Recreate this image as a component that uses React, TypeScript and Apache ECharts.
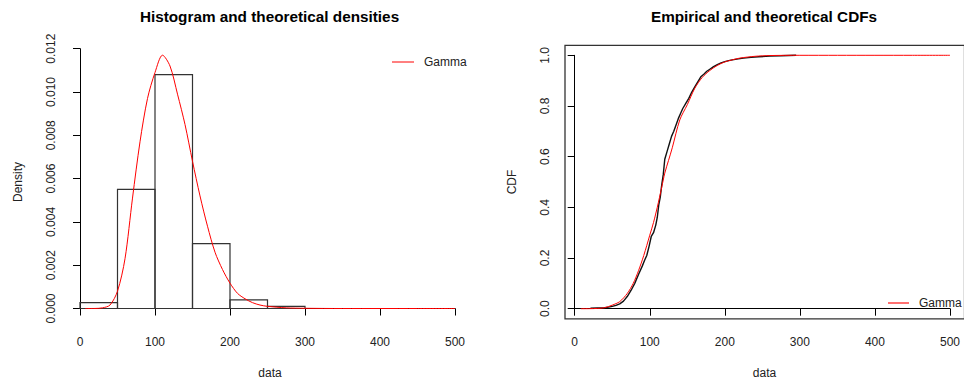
import React, { useEffect, useRef } from "react";
import * as echarts from "echarts";

// Histogram (breaks and densities)
const histBreaks = [0, 50, 100, 150, 200, 250, 300];
const histDensity = [0.00027, 0.0055, 0.0108, 0.003, 0.0004, 0.0001];

// Fitted gamma density
const densX = [7, 20, 30, 40, 50, 60, 70, 80, 90, 100, 110, 120, 130, 140, 150, 160, 170, 180, 190, 200, 210, 220, 230, 240, 250, 275, 300, 350, 400, 450, 500];
const densY = [0, 0.000002, 0.00003, 0.00016, 0.0008, 0.0023, 0.0051, 0.0077, 0.0097, 0.0109, 0.0117, 0.0112, 0.0099, 0.0085, 0.0068, 0.0052, 0.0038, 0.0026, 0.0018, 0.00117, 0.0007, 0.00045, 0.00027, 0.00016, 0.0001, 0.00003, 0.00001, 0, 0, 0, 0];

// Empirical CDF
const ecdfX = [21, 30, 40, 45, 50, 55, 60, 65, 70, 75, 80, 85, 90, 93, 96, 99, 102, 105, 108, 110, 112, 114, 116, 118, 120, 123, 126, 129, 132, 135, 138, 141, 144, 148, 152, 156, 160, 164, 168, 172, 176, 180, 185, 190, 195, 200, 205, 210, 218, 225, 235, 245, 260, 275, 295];
const ecdfY = [0.002, 0.003, 0.004, 0.006, 0.009, 0.013, 0.019, 0.03, 0.048, 0.072, 0.1, 0.135, 0.168, 0.19, 0.21, 0.245, 0.285, 0.3, 0.33, 0.36, 0.41, 0.44, 0.49, 0.53, 0.59, 0.62, 0.65, 0.68, 0.7, 0.725, 0.75, 0.77, 0.79, 0.81, 0.83, 0.855, 0.875, 0.895, 0.915, 0.925, 0.937, 0.945, 0.955, 0.963, 0.97, 0.975, 0.979, 0.982, 0.986, 0.989, 0.992, 0.994, 0.997, 0.998, 1.0];

// Fitted gamma CDF
const cdfX = [8, 20, 30, 40, 50, 60, 70, 78, 85, 92, 100, 105, 110, 116, 120, 125, 130, 140, 150, 160, 170, 180, 190, 200, 210, 220, 240, 260, 300, 350, 400, 450, 500];
const cdfY = [0, 0.0002, 0.001, 0.004, 0.014, 0.028, 0.06, 0.1, 0.15, 0.21, 0.29, 0.34, 0.4, 0.48, 0.535, 0.585, 0.635, 0.745, 0.805, 0.87, 0.913, 0.94, 0.96, 0.974, 0.982, 0.989, 0.996, 0.999, 1.0, 1.0, 1.0, 1.0, 1.0];

const legendLabel = "Gamma";

const FONT = "'Liberation Sans', Arial, sans-serif";

export default function App() {
  const ref = useRef<HTMLDivElement>(null);
  useEffect(() => {
    document.body.style.margin = "0";
    const chart = echarts.init(ref.current!, null, { renderer: "svg" });
    const histData = histDensity.map((d, i) => [histBreaks[i], histBreaks[i + 1], d]);
    const densData = densX.map((x, i) => [x, densY[i]]);
    const ecdfData = ecdfX.map((x, i) => [x, ecdfY[i]]);
    const cdfData = cdfX.map((x, i) => [x, cdfY[i]]);

    const axisCommonX = {
      type: "value",
      min: 0,
      max: 500,
      interval: 100,
      offset: 10,
      splitLine: { show: false },
      axisLine: { show: true, lineStyle: { color: "#000", width: 1 } },
      axisTick: { show: true, length: 7, lineStyle: { color: "#000" } },
      axisLabel: { color: "#222", fontSize: 12, fontFamily: FONT, margin: 17 },
    };

    const legendText = (x: number, y: number) => ({
      type: "text",
      x,
      y,
      style: { text: legendLabel, font: `12px ${FONT}`, fill: "#222", align: "left", verticalAlign: "middle" },
    });

    chart.setOption({
      animation: false,
      backgroundColor: "#fff",
      grid: [
        { left: 80, top: 48.7, width: 375, height: 259.8 },
        { left: 574.7, top: 55.3, width: 375.3, height: 253.4 },
      ],
      xAxis: [
        { ...axisCommonX, gridIndex: 0 },
        { ...axisCommonX, gridIndex: 1, offset: 10.1 },
      ],
      yAxis: [
        {
          type: "value",
          gridIndex: 0,
          min: 0,
          max: 0.012,
          interval: 0.002,
          offset: 9.5,
          splitLine: { show: false },
          axisLine: { show: true, lineStyle: { color: "#000", width: 1 } },
          axisTick: { show: true, length: 7, lineStyle: { color: "#000" } },
          axisLabel: {
            color: "#222",
            fontSize: 12,
            fontFamily: FONT,
            rotate: 90,
            margin: 14,
            formatter: (v: number) => v.toFixed(3),
          },
        },
        {
          type: "value",
          gridIndex: 1,
          min: 0,
          max: 1,
          interval: 0.2,
          offset: 9.7,
          splitLine: { show: false },
          axisLine: { show: true, lineStyle: { color: "#000", width: 1 } },
          axisTick: { show: true, length: 7, lineStyle: { color: "#000" } },
          axisLabel: {
            color: "#222",
            fontSize: 12,
            fontFamily: FONT,
            rotate: 90,
            margin: 14,
            formatter: (v: number) => v.toFixed(1),
          },
        },
      ],
      graphic: [
        {
          type: "rect",
          shape: { x: 565, y: 45.3, width: 399.5, height: 273.5 },
          style: { fill: "none", stroke: "#333", lineWidth: 1.3 },
          silent: true,
        },
        {
          type: "text",
          x: 269.5,
          y: 16,
          style: { text: "Histogram and theoretical densities", font: `bold 15.3px ${FONT}`, fill: "#000", align: "center", verticalAlign: "middle" },
        },
        {
          type: "text",
          x: 764,
          y: 16,
          style: { text: "Empirical and theoretical CDFs", font: `bold 15.3px ${FONT}`, fill: "#000", align: "center", verticalAlign: "middle" },
        },
        {
          type: "text",
          x: 270,
          y: 373,
          style: { text: "data", font: `12px ${FONT}`, fill: "#222", align: "center", verticalAlign: "middle" },
        },
        {
          type: "text",
          x: 764.5,
          y: 373,
          style: { text: "data", font: `12px ${FONT}`, fill: "#222", align: "center", verticalAlign: "middle" },
        },
        {
          type: "text",
          x: 18,
          y: 182,
          rotation: Math.PI / 2,
          style: { text: "Density", font: `12px ${FONT}`, fill: "#222", align: "center", verticalAlign: "middle" },
        },
        {
          type: "text",
          x: 511.5,
          y: 182,
          rotation: Math.PI / 2,
          style: { text: "CDF", font: `12px ${FONT}`, fill: "#222", align: "center", verticalAlign: "middle" },
        },
        {
          type: "line",
          shape: { x1: 392, y1: 62, x2: 414, y2: 62 },
          style: { stroke: "#ff0000", lineWidth: 1 },
        },
        legendText(424, 62),
        {
          type: "line",
          shape: { x1: 888, y1: 303, x2: 909, y2: 303 },
          style: { stroke: "#ff7070", lineWidth: 2 },
        },
        legendText(919, 303),
      ],
      series: [
        {
          type: "custom",
          name: "hist",
          xAxisIndex: 0,
          yAxisIndex: 0,
          data: histData,
          encode: { x: [0, 1], y: 2 },
          clip: false,
          renderItem: (params: any, api: any) => {
            const a = api.coord([api.value(0), api.value(2)]);
            const b = api.coord([api.value(1), 0]);
            return {
              type: "rect",
              shape: { x: a[0], y: a[1], width: b[0] - a[0], height: b[1] - a[1] },
              style: { fill: "none", stroke: "#333", lineWidth: 1.2 },
            };
          },
        },
        {
          type: "line",
          name: "Gamma",
          xAxisIndex: 0,
          yAxisIndex: 0,
          data: densData,
          symbol: "none",
          smooth: 0.3,
          clip: false,
          lineStyle: { color: "#ff0000", width: 1 },
          itemStyle: { color: "#ff0000" },
          z: 3,
        },
        {
          type: "line",
          name: "Empirical",
          xAxisIndex: 1,
          yAxisIndex: 1,
          data: ecdfData,
          symbol: "none",
          clip: false,
          lineStyle: { color: "#111", width: 1.4 },
          itemStyle: { color: "#000" },
          z: 2,
        },
        {
          type: "line",
          name: "Gamma CDF",
          xAxisIndex: 1,
          yAxisIndex: 1,
          data: cdfData,
          symbol: "none",
          smooth: 0.3,
          clip: false,
          lineStyle: { color: "#ff0000", width: 1 },
          itemStyle: { color: "#ff0000" },
          z: 3,
        },
      ],
    });
    return () => chart.dispose();
  }, []);
  return <div ref={ref} style={{ width: 964, height: 382 }} />;
}
